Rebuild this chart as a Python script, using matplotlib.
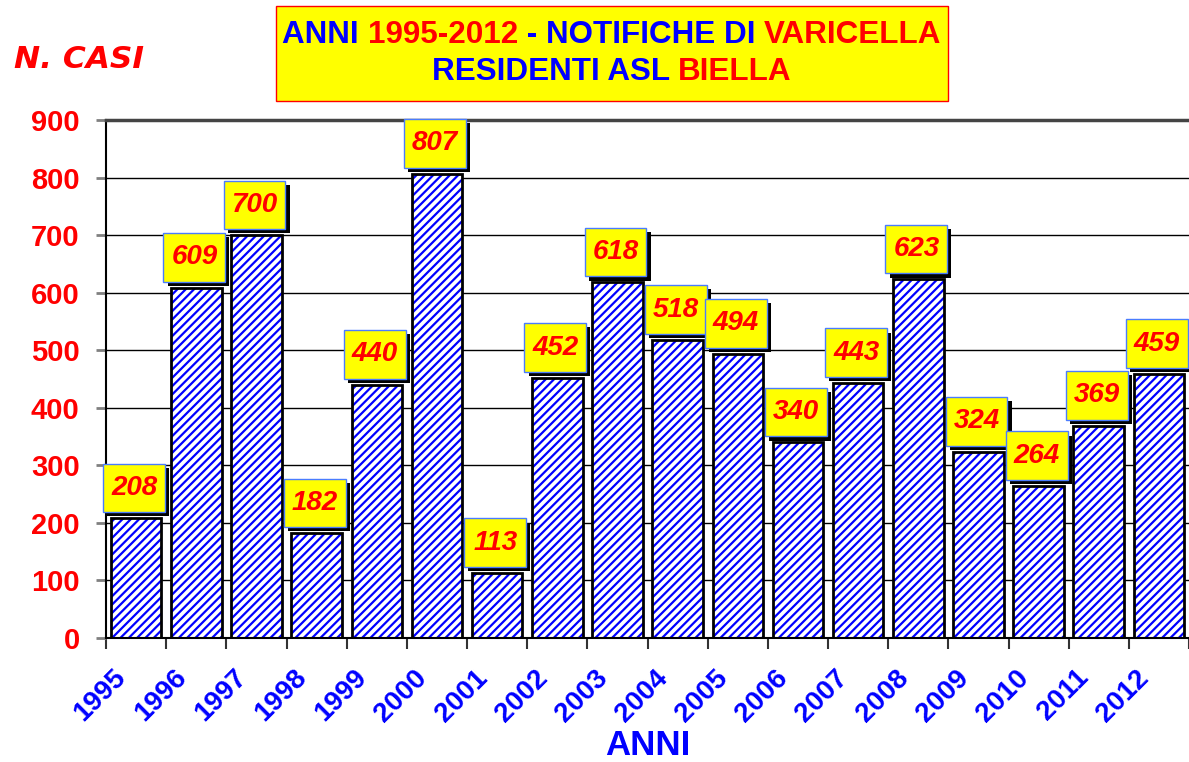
import numpy as np
import matplotlib.pyplot as plt
import matplotlib.transforms as mtransforms
from matplotlib.patches import Rectangle
from matplotlib.text import Text
from matplotlib.offsetbox import TextArea, HPacker, VPacker, AnnotationBbox, DrawingArea

# dati: notifiche di varicella, residenti ASL Biella
anni = ['1995', '1996', '1997', '1998', '1999', '2000', '2001', '2002', '2003',
        '2004', '2005', '2006', '2007', '2008', '2009', '2010', '2011', '2012']
casi = [208, 609, 700, 182, 440, 807, 113, 452, 618, 518, 494, 340, 443, 623,
        324, 264, 369, 459]
y_ticks = [0, 100, 200, 300, 400, 500, 600, 700, 800, 900]

plt.rcParams['font.family'] = ['Liberation Sans', 'DejaVu Sans']
plt.rcParams['hatch.linewidth'] = 1.6

fig = plt.figure(figsize=(11.89, 7.62), dpi=100)
ax = fig.add_axes([0.0892, 0.1627, 0.9108, 0.6798])

x = np.arange(len(anni))

# griglia orizzontale dietro le barre
for t in y_ticks[1:]:
    ax.axhline(t, color='black', lw=1, zorder=0)

# barre tratteggiate blu + contorno nero
ax.bar(x, casi, width=0.84, color='white', edgecolor='blue', hatch='////', lw=0, zorder=2)
ax.bar(x, casi, width=0.84, fill=False, edgecolor='black', lw=2, zorder=3)

# etichette gialle con ombra (misure in punti)
bw, bh, sh = 44.5, 35.0, 3.0
for i, v in enumerate(casi):
    da = DrawingArea(bw + sh, bh + sh, 0, 0)
    da.add_artist(Rectangle((sh, 0), bw, bh, facecolor='black', edgecolor='none'))
    da.add_artist(Rectangle((0, sh), bw, bh, facecolor='yellow', edgecolor='#4a7cff', lw=1))
    da.add_artist(Text(bw / 2, sh + bh / 2, str(v), ha='center', va='center',
                       fontsize=20, fontweight='bold', style='italic', color='red'))
    ab = AnnotationBbox(da, (i, v), xybox=(-1.4 - bw / 2, 4.3 - sh),
                        boxcoords='offset points', box_alignment=(0, 0),
                        frameon=False, pad=0, zorder=5, annotation_clip=False)
    ax.add_artist(ab)

ax.set_xlim(-0.5, len(anni) - 0.5)
ax.set_ylim(0, 900)
ax.set_yticks(y_ticks)
ax.set_yticklabels([str(t) for t in y_ticks], color='red', fontsize=21, fontweight='bold')
ax.tick_params(axis='y', length=7, color='gray', width=2, pad=12)

ax.set_xticks(x)
ax.set_xticklabels(anni, color='blue', fontsize=20, fontweight='bold',
                   rotation=45, ha='right', va='top', rotation_mode='anchor')
ax.set_xticks(np.arange(len(anni) + 1) - 0.5, minor=True)
ax.tick_params(axis='x', which='major', direction='in', length=7, width=1, pad=12)
ax.tick_params(axis='x', which='minor', direction='out', length=8, width=1.5, color='#333333')
sposta = mtransforms.ScaledTranslation(-0.23, -0.10, fig.dpi_scale_trans)
for lab in ax.get_xticklabels():
    lab.set_transform(lab.get_transform() + sposta)

ax.spines['right'].set_visible(False)
ax.spines['top'].set_color('#444444')
ax.spines['top'].set_linewidth(2.5)
ax.spines['left'].set_linewidth(1.5)
ax.spines['bottom'].set_linewidth(1.5)

ax.set_xlabel('ANNI', color='blue', fontsize=25, fontweight='bold', va='top')
ax.xaxis.set_label_coords(0.5, -0.176)

fig.text(0.012, 0.922, 'N. CASI', color='red', fontsize=22.5, fontweight='bold',
         style='italic', family='DejaVu Sans', va='center')

# titolo a più colori in riquadro giallo
fig.patches.append(Rectangle((0.2321, 0.8675), 0.5652, 0.1247, transform=fig.transFigure,
                             facecolor='yellow', edgecolor='red', lw=1, zorder=1))
tp = dict(fontsize=22.6, fontweight='bold')
def pezzo(testo, colore):
    return TextArea(testo, textprops=dict(color=colore, **tp))

riga1 = HPacker(children=[pezzo('ANNI ', 'blue'), pezzo('1995-2012', 'red'),
                          pezzo(' - NOTIFICHE DI ', 'blue'), pezzo('VARICELLA', 'red')],
                sep=0, pad=0, align='baseline')
riga2 = HPacker(children=[pezzo('RESIDENTI ASL ', 'blue'), pezzo('BIELLA', 'red')],
                sep=0, pad=0, align='baseline')
titolo = VPacker(children=[riga1, riga2], sep=5, pad=0, align='center')
ab = AnnotationBbox(titolo, (0.5147, 0.9298), xycoords='figure fraction', frameon=False,
                    pad=0, zorder=3)
fig.add_artist(ab)

fig.savefig('out.png', dpi=100)
